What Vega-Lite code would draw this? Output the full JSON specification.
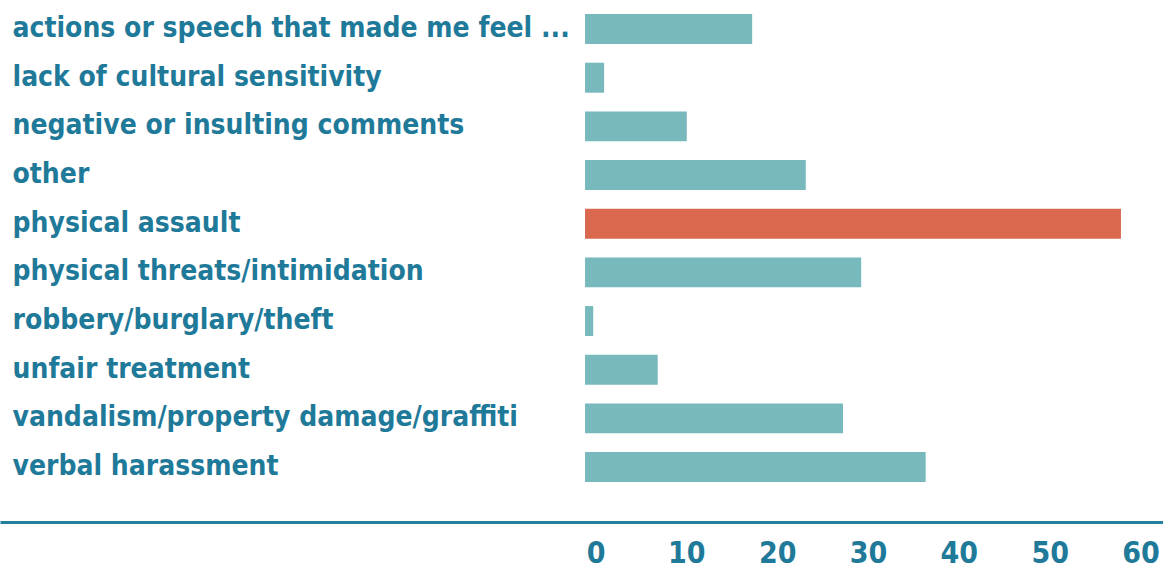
{
  "$schema": "https://vega.github.io/schema/vega-lite/v6.json",
  "width": 1163,
  "height": 522,
  "autosize": {"type": "pad"},
  "padding": 0,
  "background": "white",
  "config": {"view": {"stroke": null}},
  "data": {
    "values": [
      {"category": "actions or speech that made me feel ...", "value": 18.4},
      {"category": "lack of cultural sensitivity", "value": 2.1},
      {"category": "negative or insulting comments", "value": 11.2},
      {"category": "other", "value": 24.3},
      {"category": "physical assault", "value": 59.0},
      {"category": "physical threats/intimidation", "value": 30.4},
      {"category": "robbery/burglary/theft", "value": 0.9},
      {"category": "unfair treatment", "value": 8.0},
      {"category": "vandalism/property damage/graffiti", "value": 28.4},
      {"category": "verbal harassment", "value": 37.5}
    ]
  },
  "mark": {"type": "bar"},
  "encoding": {
    "y": {
      "field": "category",
      "type": "nominal",
      "sort": null,
      "scale": {"paddingInner": 0.384, "paddingOuter": 0.555, "align": 0.26},
      "axis": {
        "title": null,
        "orient": "left",
        "domain": false,
        "ticks": false,
        "tickSize": 0,
        "grid": false,
        "labelAlign": "left",
        "labelBaseline": "middle",
        "labelPadding": -12,
        "labelFont": "DejaVu Sans Condensed",
        "labelFontWeight": "bold",
        "labelFontSize": 28,
        "labelColor": "#1f7a9a",
        "labelLimit": 0
      }
    },
    "x": {
      "field": "value",
      "type": "quantitative",
      "scale": {"domain": [-64.41, 63.63], "nice": false, "zero": false},
      "axis": {
        "title": null,
        "values": [0, 10, 20, 30, 40, 50, 60],
        "grid": false,
        "ticks": false,
        "tickSize": 0,
        "domainColor": "#247e9e",
        "domainWidth": 3,
        "labelFont": "DejaVu Sans Condensed",
        "labelFontWeight": "bold",
        "labelFontSize": 30,
        "labelColor": "#1f7a9a",
        "labelPadding": 16,
        "labelOffset": 10.5,
        "labelFlush": false,
        "labelOverlap": false
      }
    },
    "color": {
      "condition": {"test": "datum.category === 'physical assault'", "value": "#d9684f"},
      "value": "#77b9bd"
    }
  }
}
